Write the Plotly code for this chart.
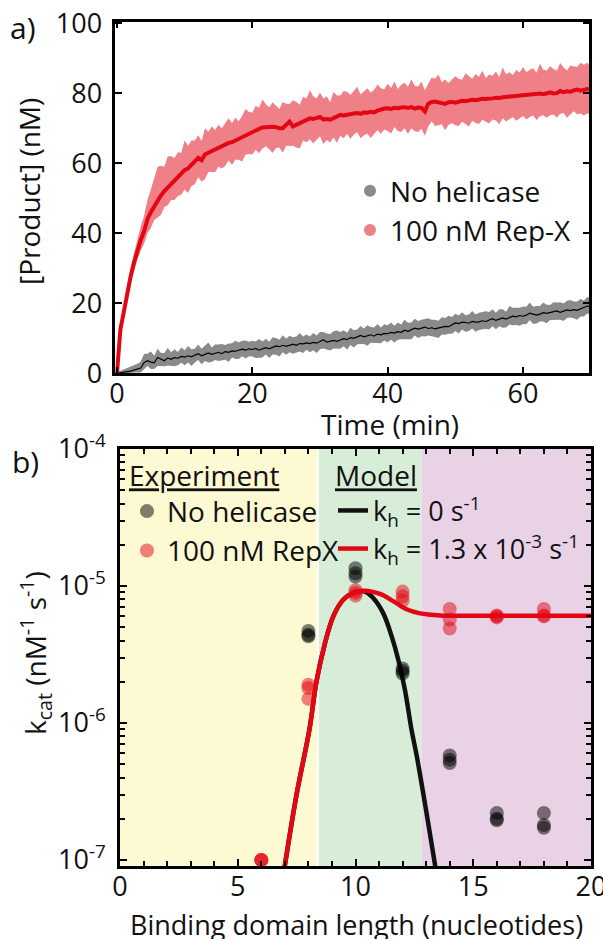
import plotly.graph_objects as go

# ---------------- Panel a data (time courses) ----------------
time_min = [i / 2 for i in range(141)]  # 0 .. 70 min, 0.5 min steps

repx_mean = [
    0, 12.5, 17.5, 23, 27.5, 31.5, 35, 38, 40.5, 44,
    46, 47.8, 49.5, 50.8, 52, 53, 54, 55, 55.6, 57,
    58, 58.5, 59.5, 60.5, 61.5, 60.8, 62.5, 63, 63.5, 64,
    64.5, 65, 65.3, 65.8, 66, 66.5, 67, 67.5, 68, 68.6,
    69, 69.3, 69.8, 70.2, 70.3, 70.5, 70.4, 70.3, 70, 70,
    71, 71.9, 70.5, 71, 71.2, 72, 72.5, 72.8, 72.6, 73,
    73.2, 72.5, 72.6, 72.4, 72.8, 73.3, 73.8, 73.6, 73.9, 74,
    74.2, 74.3, 74.1, 74.5, 74.4, 74.7, 74.5, 75, 75.4, 75.6,
    75.7, 75.5, 75.8, 75.7, 75.9, 76, 75.8, 76, 75.6, 75.9,
    75.8, 74.8, 77.0, 77.5, 77.6, 77.3, 77.1, 76.9, 77.4, 77.5,
    77.3, 77.6, 77.8, 77.7, 78, 78.1, 78, 78.2, 78.4, 78.3,
    78.3, 78.5, 78.7, 78.6, 78.8, 78.9, 79, 79.2, 79.1, 79.4,
    79.5, 79.5, 79.7, 79.6, 79.8, 79.9, 79.7, 80, 80.2, 79.9,
    80, 80.6, 80.3, 80.5, 80.4, 80.8, 81, 80.7, 81.1, 81.2,
    81.0,
]
repx_err_up = [
    0.3, 1.0, 1.5, 1.8, 2.2, 2.8, 3.2, 3.8, 4.5, 5.5,
    6.5, 8.0, 9.5, 8.5, 7.0, 9.0, 8.0, 6.5, 7.5, 6.0,
    8.5, 6.5, 7.0, 6.0, 6.5, 5.5, 7.5, 6.0, 7.0, 5.5,
    6.5, 5.0, 6.0, 7.0, 5.5, 6.5, 5.0, 6.0, 7.5, 6.0,
    5.5, 7.0, 6.0, 8.0, 6.5, 5.5, 7.0, 6.0, 5.5, 7.5,
    6.0, 5.0, 7.5, 6.5, 5.5, 7.0, 6.0, 8.0, 6.5, 5.5,
    7.0, 6.0, 6.5, 5.0, 7.5, 6.0, 5.5, 7.0, 6.5, 5.5,
    6.5, 7.5, 5.5, 6.0, 7.0, 5.5, 6.5, 7.5, 6.0, 5.5,
    7.0, 6.0, 7.5, 5.5, 6.5, 7.0, 6.0, 8.0, 6.5, 6.0,
    7.5, 6.0, 5.5, 7.0, 6.5, 8.0, 6.0, 7.0, 5.5, 6.5,
    7.5, 6.5, 6.0, 8.0, 7.0, 6.0, 7.5, 6.5, 8.0, 6.0,
    7.0, 6.5, 7.5, 6.0, 8.5, 6.5, 7.0, 6.0, 7.5, 6.5,
    8.0, 6.5, 7.0, 7.5, 6.0, 8.5, 7.0, 6.5, 7.5, 7.0,
    6.5, 8.0, 7.0, 6.0, 7.5, 7.0, 6.5, 8.0, 7.0, 7.5,
    6.5,
]
repx_err_dn = [
    0.3, 0.8, 1.2, 1.5, 1.8, 2.2, 2.6, 3.0, 3.5, 4.0,
    4.5, 4.0, 5.0, 5.5, 4.5, 5.0, 4.5, 5.5, 5.0, 6.0,
    5.5, 7.0, 6.0, 6.5, 5.5, 6.0, 7.0, 5.5, 6.0, 6.5,
    5.5, 6.5, 6.0, 5.0, 6.5, 5.5, 6.0, 7.0, 5.5, 6.0,
    6.5, 5.5, 7.0, 6.0, 5.5, 6.5, 7.5, 6.0, 5.5, 7.0,
    6.0, 7.0, 5.5, 6.5, 7.0, 5.5, 6.5, 6.0, 7.0, 6.5,
    5.5, 7.0, 6.0, 6.5, 5.5, 7.5, 6.0, 6.5, 5.5, 7.0,
    6.0, 5.5, 7.0, 6.5, 6.0, 7.5, 6.0, 5.5, 7.0, 6.0,
    6.5, 7.0, 5.5, 6.5, 7.0, 6.0, 7.5, 6.0, 6.5, 7.0,
    6.0, 7.0, 6.5, 5.5, 7.0, 6.5, 6.0, 7.5, 6.5, 6.0,
    6.5, 7.0, 6.0, 6.5, 7.5, 6.0, 6.5, 7.0, 6.0, 6.5,
    7.0, 6.0, 6.5, 7.5, 6.0, 7.0, 6.5, 6.0, 7.0, 6.5,
    6.0, 7.0, 6.5, 6.0, 7.5, 6.5, 6.0, 7.0, 6.5, 6.0,
    7.0, 6.5, 6.0, 7.5, 6.5, 6.0, 7.0, 6.5, 7.5, 7.0,
    7.0,
]

nohel_mean = [
    0, 0.1, 0.2, 0.3, 0.6, 0.9, 1.2, 1.5, 3.0, 3.6,
    3.2, 3.0, 4.5, 4.0, 3.6, 4.4, 4.0, 4.5, 4.3, 4.8,
    4.6, 5.0, 4.7, 5.2, 5.6, 5.0, 5.5, 5.8, 5.4, 5.7,
    6.0, 5.6, 6.2, 6.0, 6.4, 6.3, 6.7, 6.9, 6.6, 7.0,
    6.8, 7.1, 6.6, 6.9, 7.3, 7.0, 7.5, 7.8, 7.6, 8.0,
    7.7, 8.1, 8.3, 8.0, 8.5, 8.4, 8.7, 8.5, 8.8, 8.6,
    9.0, 9.6, 8.9, 9.2, 9.4, 9.1, 9.6, 9.9, 9.6, 10.2,
    10.0, 10.5, 10.8, 10.4, 10.7, 11.0, 10.6, 11.2, 11.0, 11.4,
    11.3, 11.7, 11.5, 11.9, 11.7, 12.3, 12.0, 12.5, 12.9, 12.6,
    12.8, 13.2, 12.8, 13.0, 12.7, 13.0, 13.2, 13.4, 13.3, 13.9,
    14.4, 14.2, 14.6, 14.5, 14.3, 14.8, 14.6, 14.7, 15.0, 14.8,
    15.2, 15.6, 15.1, 15.4, 15.8, 15.5, 16.0, 16.3, 16.1, 16.5,
    16.3, 16.6, 17.2, 16.8, 16.6, 16.9, 17.3, 17.1, 17.4, 17.6,
    17.8, 17.4, 17.7, 18.1, 17.9, 18.2, 18.0, 18.4, 18.6, 19.2,
    19.0,
]
nohel_err_up = [
    0.3, 0.6, 0.8, 1.0, 1.2, 1.3, 1.5, 1.8, 2.5, 2.0,
    3.0, 2.0, 2.5, 1.8, 2.2, 2.8, 2.0, 2.4, 1.8, 2.6,
    2.0, 2.8, 2.2, 1.8, 2.6, 2.0, 2.4, 3.0, 2.0, 2.5,
    2.2, 2.8, 1.9, 2.5, 2.2, 3.0, 2.1, 2.4, 2.8, 2.0,
    2.5, 2.0, 3.2, 2.2, 2.6, 2.0, 2.8, 2.3, 2.0, 2.9,
    2.2, 2.6, 2.0, 2.5, 3.0, 2.1, 2.4, 2.0, 2.7, 2.2,
    2.8, 2.2, 2.5, 2.0, 2.6, 3.1, 2.2, 2.4, 2.0, 2.8,
    2.3, 2.0, 2.7, 2.4, 3.0, 2.2, 2.5, 2.9, 2.1, 2.6,
    2.4, 2.8, 2.1, 2.6, 2.2, 3.0, 2.4, 2.0, 2.7, 2.3,
    2.5, 2.2, 2.9, 2.3, 2.6, 2.0, 2.8, 2.4, 3.1, 2.2,
    2.6, 2.3, 2.8, 2.1, 2.5, 3.0, 2.2, 2.6, 2.4, 2.9,
    2.3, 2.7, 2.2, 2.9, 2.5, 2.1, 3.2, 2.4, 2.6, 2.2,
    2.8, 2.4, 3.0, 2.2, 2.6, 2.3, 2.9, 2.5, 2.1, 2.7,
    2.4, 2.9, 2.2, 2.6, 3.0, 2.3, 2.5, 2.8, 2.2, 2.6,
    2.4,
]
nohel_err_dn = [
    0.0, 0.1, 0.2, 0.3, 0.5, 0.8, 1.0, 1.3, 1.8, 1.5,
    2.0, 1.8, 2.4, 2.0, 1.6, 2.2, 1.9, 2.5, 2.0, 1.7,
    2.3, 1.9, 2.6, 2.1, 1.8, 2.4, 2.0, 2.7, 2.2, 1.9,
    2.5, 2.0, 2.3, 2.8, 1.9, 2.2, 2.6, 2.0, 2.4, 2.1,
    2.0, 2.7, 2.2, 2.4, 1.9, 2.6, 2.1, 2.5, 2.8, 2.0,
    2.4, 2.1, 2.7, 2.0, 2.3, 2.6, 2.0, 2.5, 2.2, 2.8,
    2.1, 2.5, 2.0, 2.7, 2.3, 2.0, 2.6, 2.2, 2.9, 2.1,
    2.6, 2.2, 2.4, 2.0, 2.8, 2.3, 2.1, 2.6, 2.4, 2.0,
    2.5, 2.1, 2.7, 2.3, 2.0, 2.6, 2.2, 2.8, 2.1, 2.5,
    2.2, 2.7, 2.0, 2.5, 2.3, 2.9, 2.1, 2.4, 2.0, 2.6,
    2.3, 2.8, 2.1, 2.6, 2.2, 2.0, 2.7, 2.3, 2.5, 2.1,
    2.7, 2.2, 2.5, 2.0, 2.8, 2.4, 2.1, 2.6, 2.3, 2.9,
    2.2, 2.6, 2.0, 2.7, 2.4, 2.1, 2.5, 2.8, 2.2, 2.4,
    2.6, 2.1, 2.8, 2.3, 2.0, 2.5, 2.7, 2.2, 2.4, 2.1,
    2.3,
]

# ---------------- Panel b data (kcat vs binding length) ----------------
exp_nohel_len = [8, 8, 8, 10, 10, 10, 12, 12, 12, 14, 14, 14, 16, 16, 16, 18, 18, 18]
exp_nohel_kcat = [4.7e-6, 4.4e-6, 4.3e-6, 1.35e-5, 1.24e-5, 1.17e-5,
                  2.5e-6, 2.4e-6, 2.3e-6, 5.8e-7, 5.4e-7, 5.1e-7,
                  2.2e-7, 2.0e-7, 1.95e-7, 2.2e-7, 1.8e-7, 1.72e-7]
exp_repx_len = [6, 6, 6, 8, 8, 8, 10, 10, 10, 12, 12, 12, 14, 14, 14, 16, 16, 16, 18, 18, 18]
exp_repx_kcat = [1.0e-7, 1.0e-7, 1.0e-7, 1.9e-6, 1.8e-6, 1.5e-6,
                 9.3e-6, 8.9e-6, 8.5e-6, 9.1e-6, 8.4e-6, 7.8e-6,
                 6.8e-6, 5.7e-6, 4.9e-6, 6.1e-6, 6.0e-6, 5.9e-6,
                 6.8e-6, 6.1e-6, 6.0e-6]

model_kh0_len = [6.9, 7.0, 7.5, 8.04, 8.35, 8.7, 9.06, 9.48, 9.91, 10.4,
                 10.76, 11.18, 11.54, 11.82, 12.1, 12.38, 12.6, 13.0, 13.38, 13.5]
model_kh0_kcat = [7.08e-8, 9.12e-8, 3.02e-7, 8.91e-7, 2.04e-6, 3.80e-6, 6.03e-6, 7.94e-6, 8.91e-6, 9.12e-6,
                  8.13e-6, 6.31e-6, 4.27e-6, 2.88e-6, 1.74e-6, 8.91e-7, 5.75e-7, 2.29e-7, 9.12e-8, 6.76e-8]

model_kh_len = [6.9, 7.0, 7.5, 8.04, 8.35, 8.7, 9.06, 9.48, 9.91, 10.4,
                11.04, 11.6, 12.17, 12.74, 13.6, 15.0, 17.5, 20.0]
model_kh_kcat = [7.08e-8, 9.12e-8, 3.02e-7, 8.91e-7, 2.04e-6, 3.80e-6, 6.03e-6, 7.94e-6, 8.91e-6, 9.25e-6,
                 8.75e-6, 7.76e-6, 6.76e-6, 6.31e-6, 6.10e-6, 6.07e-6, 6.07e-6, 6.07e-6]

region_edges = [0, 8.4, 12.8, 20]
region_colors = ["#fdf9d2", "#d8edd8", "#e9d2e6"]

a_xticks = [0, 20, 40, 60]
a_yticks = [0, 20, 40, 60, 80, 100]
b_xticks = [0, 5, 10, 15, 20]
b_yticks = [1e-7, 1e-6, 1e-5, 1e-4]
b_yticktext = ["10<sup>-7</sup>", "10<sup>-6</sup>", "10<sup>-5</sup>", "10<sup>-4</sup>"]

# ---------------- styling ----------------
FONT = "Open Sans"
RED = "#e30613"
PINK = "#f08087"
GRAY_BAND = "#8a8a8a"

W, H = 603, 939
def px(x):
    return x / W
def py(y):
    return 1 - y / H

fig = go.Figure()

repx_hi = [m + e for m, e in zip(repx_mean, repx_err_up)]
repx_lo = [m - e for m, e in zip(repx_mean, repx_err_dn)]
nohel_hi = [m + e for m, e in zip(nohel_mean, nohel_err_up)]
nohel_lo = [m - e for m, e in zip(nohel_mean, nohel_err_dn)]

fig.add_trace(go.Scatter(x=time_min + time_min[::-1], y=nohel_hi + nohel_lo[::-1],
                         fill="toself", fillcolor=GRAY_BAND, line=dict(width=0),
                         mode="lines", showlegend=False, hoverinfo="skip",
                         xaxis="x", yaxis="y"))
fig.add_trace(go.Scatter(x=time_min, y=nohel_mean, mode="lines",
                         line=dict(color="black", width=1.2), showlegend=False,
                         xaxis="x", yaxis="y"))
fig.add_trace(go.Scatter(x=time_min + time_min[::-1], y=repx_hi + repx_lo[::-1],
                         fill="toself", fillcolor=PINK, line=dict(width=0),
                         mode="lines", showlegend=False, hoverinfo="skip",
                         xaxis="x", yaxis="y"))
fig.add_trace(go.Scatter(x=time_min, y=repx_mean, mode="lines",
                         line=dict(color=RED, width=4), showlegend=False,
                         xaxis="x", yaxis="y"))
fig.add_trace(go.Scatter(x=[None], y=[None], mode="markers", name="No helicase",
                         marker=dict(color=GRAY_BAND, size=14), legend="legend",
                         xaxis="x", yaxis="y"))
fig.add_trace(go.Scatter(x=[None], y=[None], mode="markers", name="100 nM Rep-X",
                         marker=dict(color=PINK, size=14), legend="legend",
                         xaxis="x", yaxis="y"))

fig.add_trace(go.Scatter(x=model_kh0_len, y=model_kh0_kcat, mode="lines",
                         line=dict(color="#111111", width=4.5, shape="spline"),
                         name="k<sub>h</sub> = 0 s<sup>-1</sup>", legend="legend3",
                         xaxis="x2", yaxis="y2"))
fig.add_trace(go.Scatter(x=model_kh_len, y=model_kh_kcat, mode="lines",
                         line=dict(color=RED, width=4.5, shape="spline"),
                         name="k<sub>h</sub> = 1.3 x 10<sup>-3</sup> s<sup>-1</sup>", legend="legend3",
                         xaxis="x2", yaxis="y2"))
fig.add_trace(go.Scatter(x=exp_nohel_len, y=exp_nohel_kcat, mode="markers",
                         marker=dict(color="rgba(0,0,0,0.5)", size=14, line=dict(width=0)),
                         name="No helicase", legend="legend2",
                         xaxis="x2", yaxis="y2"))
fig.add_trace(go.Scatter(x=exp_repx_len, y=exp_repx_kcat, mode="markers",
                         marker=dict(color="rgba(227,6,19,0.5)", size=14, line=dict(width=0)),
                         name="100 nM RepX", legend="legend2",
                         xaxis="x2", yaxis="y2"))

shapes = []
for i, col in enumerate(region_colors):
    shapes.append(dict(type="rect", xref="x2", yref="y2 domain",
                       x0=region_edges[i], x1=region_edges[i + 1], y0=0, y1=1,
                       fillcolor=col, line=dict(width=0), layer="below"))
shapes.append(dict(type="line", xref="x2", yref="y2 domain",
                   x0=region_edges[1], x1=region_edges[1], y0=0, y1=1,
                   line=dict(color="white", width=2), layer="below"))

axis_common = dict(showline=True, linecolor="black", linewidth=2.5, mirror="ticks",
                   ticks="inside", tickcolor="black", tickwidth=2, ticklen=7,
                   showgrid=False, zeroline=False, ticklabeloverflow="allow",
                   tickfont=dict(family=FONT, size=27, color="#111111"))

fig.update_layout(
    width=W, height=H,
    margin=dict(l=0, r=0, t=0, b=0, autoexpand=False),
    paper_bgcolor="white", plot_bgcolor="white",
    font=dict(family=FONT, size=28, color="#111111"),
    shapes=shapes,
    xaxis=dict(domain=[px(115.3), px(589.3)], range=[-0.25, 69.8], tickvals=a_xticks,
               anchor="y", ticklabelstandoff=-5, **axis_common),
    yaxis=dict(domain=[py(373.3), py(21.7)], range=[0, 100.4], tickvals=a_yticks,
               anchor="x", ticklabelstandoff=5, **axis_common),
    xaxis2=dict(domain=[px(120), px(591)], range=[0, 20], tickvals=b_xticks,
                anchor="y2", ticklabelstandoff=-5,
                minor=dict(dtick=1, ticks="inside", ticklen=5, tickwidth=2, tickcolor="black"),
                **axis_common),
    yaxis2=dict(domain=[py(866), py(449)], type="log", range=[-7.044, -4],
                tickvals=b_yticks, ticktext=b_yticktext, anchor="x2", ticklabelstandoff=6,
                minor=dict(dtick="D1", ticks="inside", ticklen=5, tickwidth=2, tickcolor="black"),
                **axis_common),
    legend=dict(x=px(350), y=py(166), xanchor="left", yanchor="top",
                bgcolor="rgba(0,0,0,0)", font=dict(family=FONT, size=28),
                itemsizing="constant"),
    legend2=dict(x=px(127), y=py(450), xanchor="left", yanchor="top",
                 bgcolor="rgba(0,0,0,0)", font=dict(family=FONT, size=28),
                 title=dict(text="<u>Experiment</u>", font=dict(family=FONT, size=28))),
    legend3=dict(x=px(333), y=py(450), xanchor="left", yanchor="top",
                 bgcolor="rgba(0,0,0,0)", font=dict(family=FONT, size=27),
                 title=dict(text="<u>Model</u>", font=dict(family=FONT, size=28))),
    annotations=[
        dict(text="a)", x=px(8), y=py(27), xref="paper", yref="paper",
             xanchor="left", yanchor="middle", showarrow=False, font=dict(size=30)),
        dict(text="b)", x=px(10), y=py(462), xref="paper", yref="paper",
             xanchor="left", yanchor="middle", showarrow=False, font=dict(size=30)),
        dict(text="Time (min)", x=px(390), y=py(424), xref="paper", yref="paper",
             xanchor="center", yanchor="middle", showarrow=False, font=dict(size=28)),
        dict(text="[Product] (nM)", x=px(29), y=py(192), xref="paper", yref="paper",
             xanchor="center", yanchor="middle", textangle=-90, showarrow=False,
             font=dict(size=28)),
        dict(text="k<sub>cat</sub> (nM<sup>-1</sup> s<sup>-1</sup>)", x=px(35), y=py(653),
             xref="paper", yref="paper", xanchor="center", yanchor="middle", textangle=-90,
             showarrow=False, font=dict(size=28)),
        dict(text="Binding domain length (nucleotides)", x=px(356), y=py(924),
             xref="paper", yref="paper", xanchor="center", yanchor="middle",
             showarrow=False, font=dict(size=27)),
    ],
)

fig.write_html("out.html", config={"displayModeBar": False},
               post_script="document.body.style.margin='0px';")
